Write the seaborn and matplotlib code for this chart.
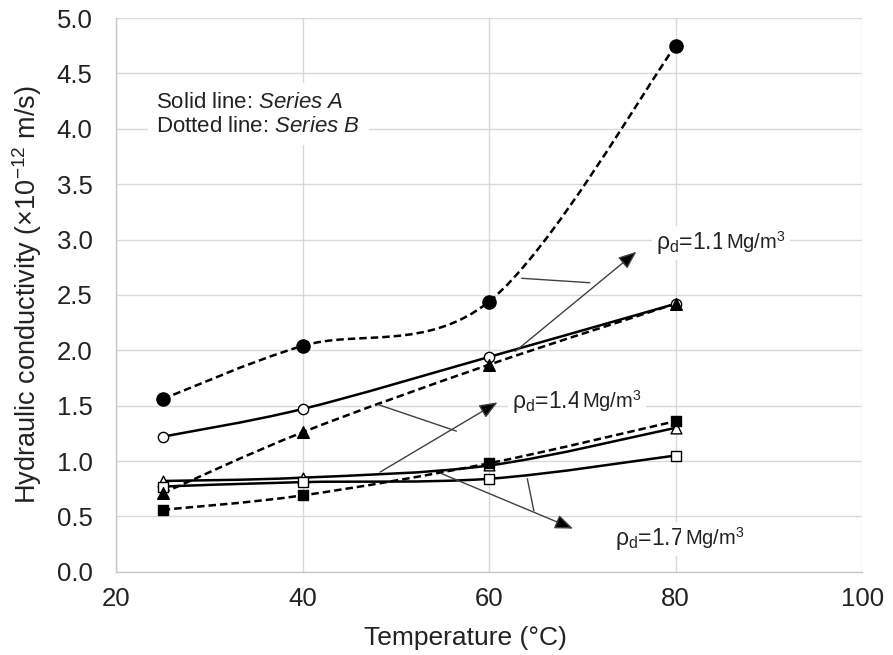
import numpy as np
import pandas as pd
import matplotlib
matplotlib.use("Agg")
import matplotlib.pyplot as plt
from matplotlib.path import Path
from matplotlib.patches import PathPatch
import seaborn as sns

# ---- data -------------------------------------------------------------
temperature = [25, 40, 60, 80]

# Series A (solid lines, open markers)
a_rho11 = [1.22, 1.47, 1.94, 2.42]
a_rho14 = [0.82, 0.85, 0.96, 1.30]
a_rho17 = [0.77, 0.81, 0.84, 1.05]

# Series B (dotted lines, filled markers)
b_rho11 = [1.56, 2.04, 2.44, 4.75]
b_rho14 = [0.71, 1.26, 1.87, 2.42]
b_rho17 = [0.56, 0.69, 0.98, 1.36]

x_ticks = [20, 40, 60, 80, 100]
y_ticks = [0.0, 0.5, 1.0, 1.5, 2.0, 2.5, 3.0, 3.5, 4.0, 4.5, 5.0]

density_labels = ["1.1", "1.4", "1.7"]

rows = []
for series, sets in (("A", (a_rho11, a_rho14, a_rho17)),
                     ("B", (b_rho11, b_rho14, b_rho17))):
    for dens, vals in zip(density_labels, sets):
        for t, v in zip(temperature, vals):
            rows.append({"series": series, "density": dens, "T": t, "K": v})
df = pd.DataFrame(rows)

# ---- style ------------------------------------------------------------
sns.set_theme(style="whitegrid")
plt.rcParams["font.family"] = ["Liberation Sans", "DejaVu Sans"]
plt.rcParams["mathtext.fontset"] = "custom"
plt.rcParams["mathtext.rm"] = "Liberation Sans"
plt.rcParams["mathtext.it"] = "Liberation Sans:italic"
plt.rcParams["mathtext.bf"] = "Liberation Sans:bold"

fig = plt.figure(figsize=(8.93, 6.55), dpi=100)
ax = fig.add_axes([0.130, 0.127, 0.8354, 0.8455])
ax.set_facecolor("white")

marker_for = {"1.1": "o", "1.4": "^", "1.7": "s"}
# marker areas (pt^2): filled markers for series B, open ones for series A
size_for = {("A", "1.1"): 55, ("A", "1.4"): 60, ("A", "1.7"): 50,
            ("B", "1.1"): 90, ("B", "1.4"): 70, ("B", "1.7"): 60}


def smooth_path(xs, ys):
    """Cubic Bezier path through the points (Catmull-Rom style smoothing)."""
    pts = np.column_stack([xs, ys]).astype(float)
    n = len(pts)
    verts = [pts[0]]
    codes = [Path.MOVETO]
    for i in range(n - 1):
        p0 = pts[i - 1] if i > 0 else pts[i]
        p1 = pts[i]
        p2 = pts[i + 1]
        p3 = pts[i + 2] if i + 2 < n else pts[i + 1]
        c1 = p1 + (p2 - p0) / 6.0
        c2 = p2 - (p3 - p1) / 6.0
        verts += [c1, c2, p2]
        codes += [Path.CURVE4] * 3
    return Path(verts, codes)


# smoothed lines
for (series, dens), g in df.groupby(["series", "density"]):
    g = g.sort_values("T")
    path = smooth_path(g["T"].values, g["K"].values)
    if series == "A":
        patch = PathPatch(path, facecolor="none", edgecolor="black",
                          lw=1.8, zorder=3, capstyle="round")
    else:
        patch = PathPatch(path, facecolor="none", edgecolor="black",
                          lw=1.8, linestyle=(0, (3.0, 1.6)), zorder=3)
    ax.add_patch(patch)

# markers
for (series, dens), g in df.groupby(["series", "density"]):
    face = "white" if series == "A" else "black"
    sns.scatterplot(data=g, x="T", y="K", marker=marker_for[dens],
                    s=size_for[(series, dens)], facecolor=face,
                    edgecolor="black", linewidth=1.0, ax=ax, zorder=4,
                    legend=False)

# ---- axes -------------------------------------------------------------
ax.set_xlim(20, 100)
ax.set_ylim(0, 5)
ax.set_xticks(x_ticks)
ax.set_yticks(y_ticks)
ax.set_yticklabels([f"{v:.1f}" for v in y_ticks])
ax.grid(True, color="#d9d9d9", lw=1.0)
ax.tick_params(axis="both", labelsize=18.5, colors="#222222", length=0)
ax.tick_params(axis="y", pad=17)
ax.tick_params(axis="x", pad=11)
for side in ("top", "right"):
    ax.spines[side].set_visible(False)
for side in ("left", "bottom"):
    ax.spines[side].set_color("#c8c8c8")
    ax.spines[side].set_linewidth(1.0)

ax.set_xlabel("Temperature (°C)", fontsize=19, color="#222222")
ax.xaxis.set_label_coords(0.468, -0.097)
ax.set_ylabel("Hydraulic conductivity (×10$^{-12}$ m/s)", fontsize=19.5,
              labelpad=9, color="#222222")

# ---- annotations ------------------------------------------------------
arrow_kw = dict(arrowstyle="-|>,head_length=0.5,head_width=0.2",
                edgecolor="#404040", facecolor="black", lw=1.0,
                mutation_scale=22, shrinkA=0, shrinkB=0)

# (arrow start, arrow tip, connector start, connector end)
annot = {
    "1.1": ((62.8, 1.99), (75.8, 2.89), (63.5, 2.65), (70.8, 2.61)),
    "1.4": ((48.3, 0.90), (60.9, 1.53), (48.1, 1.51), (56.5, 1.27)),
    "1.7": ((54.8, 0.89), (69.0, 0.39), (64.1, 0.84), (64.8, 0.55)),
}
label_pos = {"1.1": (77.9, 2.915), "1.4": (62.5, 1.48), "1.7": (73.5, 0.245)}

for dens, (a0, a1, c0, c1) in annot.items():
    ax.annotate("", xy=a1, xytext=a0, arrowprops=arrow_kw, zorder=5)
    ax.plot([c0[0], c1[0]], [c0[1], c1[1]], color="#404040", lw=1.0,
            zorder=5)
    lx, ly = label_pos[dens]
    t1 = ax.text(lx, ly, f"ρ$_\\mathregular{{d}}$={dens} ", fontsize=16.5,
                 va="baseline", ha="left", zorder=6, color="#222222",
                 bbox=dict(facecolor="white", edgecolor="none", pad=3))
    ax.annotate("Mg/m$^3$", xy=(1, ly), xycoords=(t1, "data"),
                fontsize=14.5, va="baseline", ha="left", zorder=6,
                color="#222222",
                bbox=dict(facecolor="white", edgecolor="none", pad=3))

ax.text(24.3, 4.13, "Solid line: $\\mathit{Series\\ A}$\n"
        "Dotted line: $\\mathit{Series\\ B}$",
        fontsize=16, va="center", ha="left", linespacing=1.2, zorder=6,
        color="#222222",
        bbox=dict(facecolor="white", edgecolor="none", pad=6))

fig.savefig("out.png", dpi=100, facecolor="white")
